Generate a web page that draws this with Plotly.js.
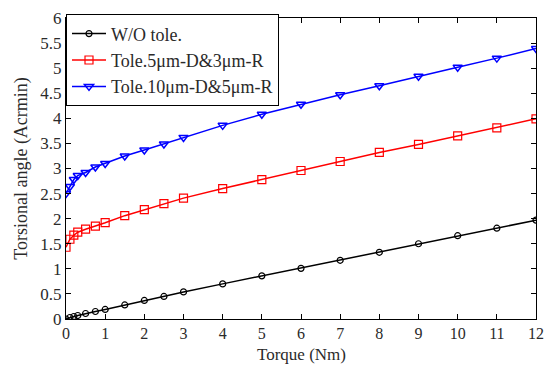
<!DOCTYPE html>
<html><head><meta charset="utf-8">
<script src="https://cdn.plot.ly/plotly-3.0.1.min.js"></script>
<style>html,body{margin:0;padding:0;background:#fff}</style>
</head><body>
<div id="chart" style="width:552px;height:365px"></div>
<script>
const torque = [0, 0.1, 0.2, 0.3, 0.5, 0.75, 1, 1.5, 2, 2.5, 3, 4, 5, 6, 7, 8, 9, 10, 11, 12];
const angleNoTol = [0, 0.03, 0.05, 0.07, 0.11, 0.15, 0.19, 0.28, 0.37, 0.45, 0.54, 0.70, 0.86, 1.01, 1.17, 1.33, 1.50, 1.66, 1.81, 1.97];
const angleTol5 = [1.43, 1.59, 1.67, 1.73, 1.79, 1.85, 1.92, 2.06, 2.18, 2.30, 2.41, 2.60, 2.78, 2.96, 3.14, 3.32, 3.48, 3.65, 3.81, 3.99];
const angleTol10 = [2.50, 2.64, 2.78, 2.86, 2.92, 3.03, 3.10, 3.25, 3.37, 3.49, 3.62, 3.86, 4.08, 4.28, 4.47, 4.65, 4.84, 5.02, 5.20, 5.39];
const seriesNames = ["W/O tole.", "Tole.5\u03bcm-D&3\u03bcm-R", "Tole.10\u03bcm-D&5\u03bcm-R"];
const xTicks = [0,1,2,3,4,5,6,7,8,9,10,11,12];
const yTicks = [0,0.5,1,1.5,2,2.5,3,3.5,4,4.5,5,5.5,6];

const fam = "Liberation Serif";
const tickFont = {family: fam, size: 17, color: "#2a2a2a"};
const xTickFont = {family: fam, size: 16, color: "#2a2a2a"};
const titleFontX = {family: fam, size: 17, color: "#2a2a2a"};
const titleFontY = {family: fam, size: 18, color: "#2a2a2a"};
const legendFont = {family: fam, size: 18, color: "#2a2a2a"};
const traces = [
  {x: torque, y: angleNoTol, name: seriesNames[0], mode: "lines+markers",
   line: {color: "#000", width: 1.5}, marker: {symbol: "circle-open", size: 6, color: "#000", line: {width: 1.2}}},
  {x: torque, y: angleTol5, name: seriesNames[1], mode: "lines+markers",
   line: {color: "#ff0000", width: 1.5}, marker: {symbol: "square-open", size: 8, color: "#ff0000", line: {width: 1.2}}},
  {x: torque, y: angleTol10, name: seriesNames[2], mode: "lines+markers",
   line: {color: "#0000ff", width: 1.5}, marker: {symbol: "triangle-down-open", size: 8, color: "#0000ff", line: {width: 1.5}}}
];
const axisCommon = {showgrid: false, zeroline: false, showline: true, linecolor: "#000", linewidth: 1,
  mirror: "ticks", ticks: "inside", ticklen: 5, tickcolor: "#000", tickfont: tickFont};
const layout = {
  width: 552, height: 365,
  margin: {l: 66, r: 16, t: 18, b: 46},
  paper_bgcolor: "#fff", plot_bgcolor: "#fff",
  font: tickFont,
  showlegend: true,
  legend: {x: 0, y: 1.012, xanchor: "left", yanchor: "top", bgcolor: "#fff",
    bordercolor: "#000", borderwidth: 1, font: legendFont, tracegroupgap: 0, itemwidth: 34},
  xaxis: Object.assign({}, axisCommon, {range: [0, 12], tickvals: xTicks, automargin: false,
    tickfont: xTickFont, ticklabelstandoff: 0}),
  yaxis: Object.assign({}, axisCommon, {range: [0, 6], tickvals: yTicks,
    ticktext: yTicks.map(v => String(v)), ticklabelstandoff: 0,
    title: {text: "Torsional angle (Acrmin)", font: titleFontY, standoff: 8}}),
  annotations: [{text: "Torque (Nm)", xref: "paper", yref: "paper", x: 0.5, y: -0.153,
    xanchor: "center", yanchor: "bottom", showarrow: false, borderpad: 0, font: titleFontX}]
};
Plotly.newPlot("chart", traces, layout, {displayModeBar: false, staticPlot: true});
</script>
</body></html>
